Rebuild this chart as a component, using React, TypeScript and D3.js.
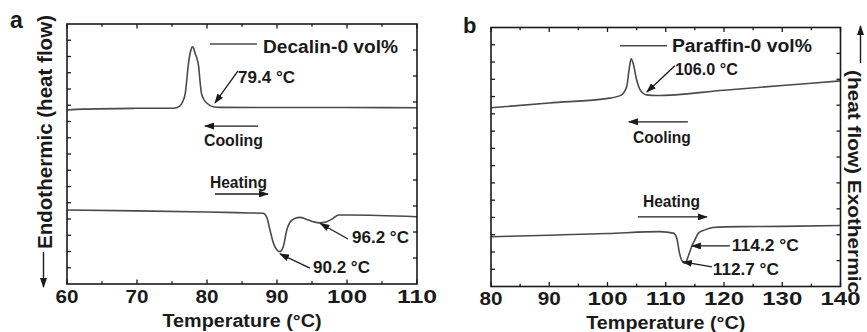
import React from "react";
import * as d3 from "d3";

// ---- data (temperature in °C, heat flow in arbitrary axis units) ----
const decalinCoolT = [60, 62.3, 69.4, 75.2, 76.1, 76.5, 76.9, 77.1, 77.3, 77.5, 77.7, 77.9, 78.1, 78.3, 78.55, 78.8, 79.0, 79.2, 79.5, 80.0, 80.9, 81.9, 90, 100, 110];
const decalinCoolV = [10.71, 10.76, 10.81, 10.82, 10.95, 11.2, 11.74, 12.5, 13.37, 14.0, 14.4, 14.6, 14.5, 14.2, 13.9, 13.41, 12.5, 11.74, 11.4, 11.12, 10.91, 10.87, 10.86, 10.86, 10.85];
const decalinHeatT = [60, 70, 80, 86.1, 88.0, 88.5, 89.0, 89.5, 90.0, 90.4, 90.9, 91.4, 91.9, 92.6, 93.3, 94.2, 95.2, 96.1, 97.1, 98.0, 98.8, 100.4, 110];
const decalinHeatV = [4.55, 4.5, 4.43, 4.37, 4.35, 4.14, 3.32, 2.5, 2.09, 1.99, 2.3, 3.32, 3.83, 4.04, 4.1, 3.98, 3.83, 3.76, 3.83, 4.04, 4.25, 4.25, 4.14];

const paraffinCoolT = [80, 90, 100.4, 102.4, 103.3, 103.7, 104.05, 104.4, 105.0, 105.6, 106.7, 108.4, 120, 130, 140];
const paraffinCoolV = [10.35, 10.63, 10.91, 11.1, 11.58, 12.55, 13.19, 12.93, 11.97, 11.39, 11.1, 11.06, 11.37, 11.64, 11.91];
const paraffinHeatT = [80, 90, 100, 109.0, 111.3, 111.9, 112.3, 112.7, 113.3, 113.85, 114.45, 115.0, 115.6, 116.7, 118.1, 122.7, 130, 140];
const paraffinHeatV = [2.88, 2.97, 3.07, 3.18, 3.09, 2.8, 2.03, 1.55, 1.35, 1.74, 2.32, 2.7, 3.09, 3.28, 3.42, 3.47, 3.48, 3.53];

const xTicksA = [60, 70, 80, 90, 100, 110];
const xTicksB = [80, 90, 100, 110, 120, 130, 140];

// notes: text placed at [temperature, value] (start, baseline)
const notesA = [
  { text: "79.4 °C", t: 84.43, v: 12.37, len: 57, size: 17 },
  { text: "Cooling", t: 79.57, v: 8.49, len: 59, size: 16 },
  { text: "Heating", t: 80.43, v: 5.91, len: 57, size: 16 },
  { text: "96.2 °C", t: 100.71, v: 2.52, len: 57, size: 17 },
  { text: "90.2 °C", t: 95.14, v: 0.68, len: 57, size: 17 },
];
const arrowsA = [
  { from: [84.43, 13.11], to: [81.14, 11.14] },
  { from: [87.29, 9.72], to: [79.71, 9.72] },
  { from: [81.14, 5.54], to: [88.71, 5.54] },
  { from: [100.14, 2.77], to: [96.2, 3.72] },
  { from: [94.71, 0.98], to: [90.43, 1.85] },
];
const notesB = [
  { text: "106.0 °C", t: 111.57, v: 12.26, len: 63, size: 16 },
  { text: "Cooling", t: 104.36, v: 8.32, len: 58, size: 16 },
  { text: "Heating", t: 106.08, v: 4.61, len: 57, size: 16 },
  { text: "114.2 °C", t: 121.35, v: 2.07, len: 67, size: 17 },
  { text: "112.7 °C", t: 118.09, v: 0.68, len: 66, size: 17 },
];
const arrowsB = [
  { from: [111.57, 12.79], to: [106.77, 11.27] },
  { from: [113.8, 9.54], to: [103.68, 9.54] },
  { from: [105.22, 4.03], to: [117.06, 4.03] },
  { from: [121.0, 2.35], to: [114.49, 2.35] },
  { from: [117.92, 1.14], to: [112.94, 1.43] },
];

const legendA = { label: "Decalin-0 vol%", t0: 80.43, t1: 87.14, v: 14.77, tt: 88.0, vt: 14.22, len: 135 };
const legendB = { label: "Paraffin-0 vol%", t0: 102.13, t1: 110.2, v: 13.95, tt: 111.06, vt: 13.59, len: 140 };

const FONT = "'Liberation Sans', Arial, Helvetica, sans-serif";
const CURVE = "#4a4a4a";
const INK = "#1a1a1a";

type Box = { left: number; top: number; width: number; height: number };

function Panel(props: {
  box: Box;
  xDomain: [number, number];
  leftN: number;
  rightN: number;
  xTicks: number[];
  curves: { t: number[]; v: number[] }[];
  legend: typeof legendA;
  notes: typeof notesA;
  arrows: typeof arrowsA;
}) {
  const { box, xDomain, leftN, rightN, xTicks, curves, legend, notes, arrows } = props;
  const bottom = box.top + box.height;
  const right = box.left + box.width;
  const x = d3.scaleLinear().domain(xDomain).range([box.left, right]);
  const y = d3.scaleLinear().domain([0, leftN]).range([bottom, box.top]);
  const yR = d3.scaleLinear().domain([0, rightN]).range([bottom, box.top]);
  const line = d3
    .line<[number, number]>()
    .x((d) => x(d[0]))
    .y((d) => y(d[1]))
    .curve(d3.curveMonotoneX);
  const xMinor = x.ticks((xDomain[1] - xDomain[0]) / 5);
  const yLeft = y.ticks(leftN).filter((d) => d > 0 && d < leftN);
  const yRight = yR.ticks(rightN).filter((d) => d > 0 && d < rightN);

  return (
    <g>
      {curves.map((c, i) => (
        <path
          key={i}
          d={line(c.t.map((t, j) => [t, c.v[j]] as [number, number])) || ""}
          fill="none"
          stroke={CURVE}
          strokeWidth={1.6}
        />
      ))}
      <rect x={box.left} y={box.top} width={box.width} height={box.height} fill="none" stroke={INK} strokeWidth={1.6} />
      {xMinor.map((t) => {
        const len = t % 10 === 0 ? 4.5 : 2.8;
        return (
          <g key={"xt" + t} stroke={INK} strokeWidth={1.3}>
            <line x1={x(t)} x2={x(t)} y1={bottom} y2={bottom - len} />
            <line x1={x(t)} x2={x(t)} y1={box.top} y2={box.top + len} />
          </g>
        );
      })}
      {yLeft.map((v) => (
        <line key={"yl" + v} x1={box.left} x2={box.left + 4} y1={y(v)} y2={y(v)} stroke={INK} strokeWidth={1.3} />
      ))}
      {yRight.map((v) => (
        <line key={"yr" + v} x1={right} x2={right - 4} y1={yR(v)} y2={yR(v)} stroke={INK} strokeWidth={1.3} />
      ))}
      {xTicks.map((t) => (
        <text
          key={"xl" + t}
          x={x(t)}
          y={bottom + 18.5}
          textAnchor="middle"
          fontSize={19}
          fontWeight="bold"
          fill={INK}
          textLength={t >= 100 ? 40 : 23}
          lengthAdjust="spacingAndGlyphs"
        >
          {t}
        </text>
      ))}
      <text
        x={(box.left + right) / 2}
        y={bottom + 42.5}
        textAnchor="middle"
        fontSize={18}
        fontWeight="bold"
        fill={INK}
        textLength={159}
        lengthAdjust="spacingAndGlyphs"
      >
        Temperature (°C)
      </text>
      <line x1={x(legend.t0)} x2={x(legend.t1)} y1={y(legend.v)} y2={y(legend.v)} stroke={CURVE} strokeWidth={1.5} />
      <text
        x={x(legend.tt)}
        y={y(legend.vt)}
        fontSize={18}
        fontWeight="bold"
        fill={INK}
        textLength={legend.len}
        lengthAdjust="spacingAndGlyphs"
      >
        {legend.label}
      </text>
      {notes.map((n) => (
        <text
          key={n.text}
          x={x(n.t)}
          y={y(n.v)}
          fontSize={n.size}
          fontWeight="bold"
          fill={INK}
          textLength={n.len}
          lengthAdjust="spacingAndGlyphs"
        >
          {n.text}
        </text>
      ))}
      {arrows.map((a, i) => (
        <line
          key={"ar" + i}
          x1={x(a.from[0])}
          y1={y(a.from[1])}
          x2={x(a.to[0])}
          y2={y(a.to[1])}
          stroke={INK}
          strokeWidth={1.3}
          markerEnd="url(#head)"
        />
      ))}
    </g>
  );
}

export default function App() {
  return (
    <svg
      width={867}
      height={332}
      viewBox="0 0 867 332"
      style={{ position: "absolute", left: 0, top: 0, background: "#fff", fontFamily: FONT }}
    >
      <defs>
        <marker id="head" markerUnits="userSpaceOnUse" markerWidth={10} markerHeight={7} refX={9} refY={3.5} orient="auto">
          <path d="M0,0 L10,3.5 L0,7 z" fill={INK} />
        </marker>
      </defs>
      <rect width={867} height={332} fill="#fff" />
      <Panel
        box={{ left: 67, top: 24, width: 350, height: 260 }}
        xDomain={[60, 110]}
        leftN={16}
        rightN={10}
        xTicks={xTicksA}
        curves={[
          { t: decalinCoolT, v: decalinCoolV },
          { t: decalinHeatT, v: decalinHeatV },
        ]}
        legend={legendA}
        notes={notesA}
        arrows={arrowsA}
      />
      <Panel
        box={{ left: 491, top: 27.5, width: 349.5, height: 259 }}
        xDomain={[80, 140]}
        leftN={15}
        rightN={10}
        xTicks={xTicksB}
        curves={[
          { t: paraffinCoolT, v: paraffinCoolV },
          { t: paraffinHeatT, v: paraffinHeatV },
        ]}
        legend={legendB}
        notes={notesB}
        arrows={arrowsB}
      />
      <text x={10} y={28} fontSize={23} fontWeight="bold" fill={INK}>a</text>
      <text x={463} y={33} fontSize={22} fontWeight="bold" fill={INK}>b</text>
      {/* left axis title with downward arrow */}
      <text
        transform="translate(52,132) rotate(-90)"
        textAnchor="middle"
        fontSize={21}
        fontWeight="bold"
        fill={INK}
        textLength={234}
        lengthAdjust="spacingAndGlyphs"
      >
        Endothermic (heat flow)
      </text>
      <line x1={43.5} y1={252} x2={43.5} y2={287} stroke={INK} strokeWidth={1.4} markerEnd="url(#head)" />
      {/* right axis title with upward arrow */}
      <text
        transform="translate(848,181.5) rotate(90)"
        textAnchor="middle"
        fontSize={19}
        fontWeight="bold"
        fill={INK}
        textLength={223}
        lengthAdjust="spacingAndGlyphs"
      >
        (heat flow) Exothermic
      </text>
      <line x1={860.5} y1={63} x2={860.5} y2={26} stroke={INK} strokeWidth={1.4} markerEnd="url(#head)" />
    </svg>
  );
}
